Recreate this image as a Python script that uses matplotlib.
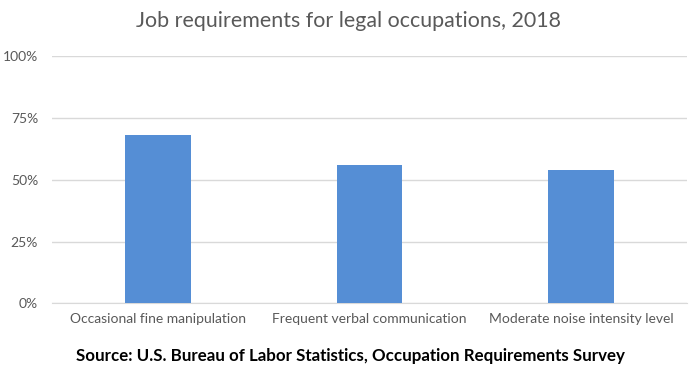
import matplotlib
matplotlib.use("Agg")
import matplotlib.pyplot as plt
from matplotlib.ticker import FuncFormatter

categories = ["Occasional fine manipulation", "Frequent verbal communication", "Moderate noise intensity level"]
values = [68, 56, 54]
yticks = [0, 25, 50, 75, 100]

plt.rcParams['font.family'] = ['Lato', 'DejaVu Sans']

fig = plt.figure(figsize=(6.96, 3.72), dpi=100)
ax = fig.add_axes([0.0747, 0.1847, 0.9123, 0.664])
ax.bar(range(len(categories)), values, width=0.31, color="#558ed5", zorder=3)
ax.set_xlim(-0.5, len(categories) - 0.5)
ax.set_ylim(0, 100)
ax.set_yticks(yticks)
ax.yaxis.set_major_formatter(FuncFormatter(lambda v, p: f"{int(v)}%"))
ax.set_xticks(range(len(categories)))
ax.set_xticklabels(categories)
ax.grid(axis="y", color="#d9d9d9", linewidth=1, zorder=0)
for s in ["top", "right", "left"]:
    ax.spines[s].set_visible(False)
ax.spines["bottom"].set_color("#d9d9d9")
ax.tick_params(axis="both", length=0, colors="#595959", labelsize=10)
ax.tick_params(axis="x", pad=7)
ax.tick_params(axis="y", pad=10)

fig.text(0.5, 0.943, "Job requirements for legal occupations, 2018", ha="center", va="center",
         fontsize=15.4, color="#595959")
fig.text(0.503, 0.043, "Source: U.S. Bureau of Labor Statistics, Occupation Requirements Survey",
         ha="center", va="center", fontsize=12.2, fontweight="bold", color="black")

fig.savefig("out.png", dpi=100)
